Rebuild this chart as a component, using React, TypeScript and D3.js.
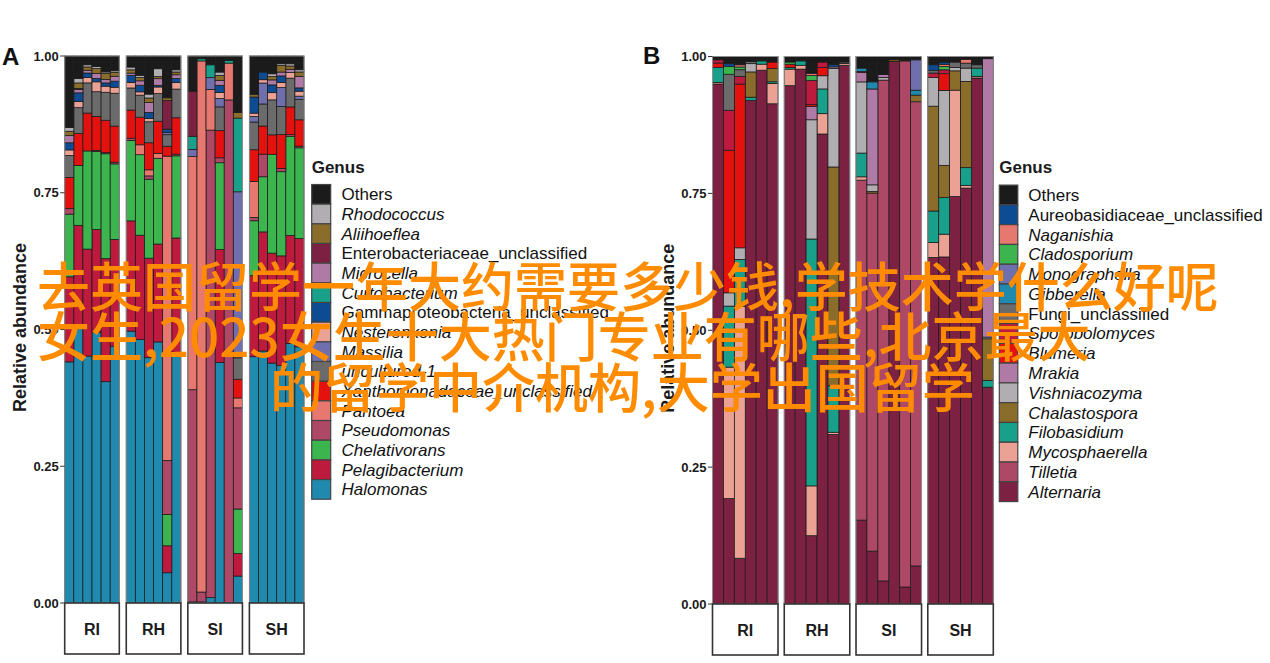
import React from 'react';
import * as d3 from 'd3';

// ---------- categories ----------
const facets = ['RI', 'RH', 'SI', 'SH'];
const perFacet = 6;
const tickValues = [0, 0.25, 0.5, 0.75, 1];

// ---------- Panel A (bacteria), stack order bottom -> top ----------
const genusA = ['Halomonas', 'Pelagibacterium', 'Chelativorans', 'Pseudomonas', 'Pantoea',
  'Xanthomonadaceae_unclassified', 'uncultured-1', 'Massilia', 'Nesterenkonia',
  'Gammaproteobacteria_unclassified', 'Curtobacterium', 'Microcella',
  'Enterobacteriaceae_unclassified', 'Aliihoeflea', 'Rhodococcus', 'Others'];
const italicA = [true, true, true, true, true, true, true, true, true, false, true, true, false, true, true, false];
const colorsA = ['#2089ae', '#bd1a3d', '#3cb54f', '#ae4867', '#e77870', '#e3120f', '#6b6b6b', '#6f6fae',
  '#eba294', '#0d4c93', '#18a08a', '#b07aa6', '#7d2142', '#8a6c2b', '#b1aeb1', '#1b1b1b'];

// values: RI1-6, RH1-6, SI1-6, SH1-6
const aHalomonas = [.439, .499, .450, .493, .403, .469, .493, .478, .444, .472, .055, .453, .002, .002, .010, .435, 0, .049, .444, .457, .432, .429, .469, .466];
const aPelagibacterium = [.155, .188, .195, .187, .224, .195, .200, .189, .180, .177, .049, .209, 0, 0, 0, .204, 0, .041, .146, .216, .198, .198, .195, .197];
const aChelativorans = [.114, .109, .179, .142, .191, .138, .146, .146, .143, .155, .057, .149, 0, 0, 0, .157, 0, .081, .099, .100, .178, .152, .179, .165];
const aPseudomonas = [.010, 0, 0, .002, .002, .003, .004, 0, .006, 0, .098, .003, .386, .018, .851, .009, .916, .184, .006, .041, 0, .006, .003, .003];
const aPantoea = [0, 0, 0, 0, 0, 0, 0, .018, .011, .009, .553, 0, .424, .969, .074, 0, .067, .018, .065, 0, 0, 0, 0, 0];
const aXanthomonadaceae = [.057, .058, .069, .062, .059, .066, .051, .050, .049, .058, .018, .066, 0, 0, 0, .049, 0, .034, .057, .051, .035, .061, .050, .048];
const aUncultured = [.040, .047, .055, .045, .051, .060, .040, .040, .038, .050, .021, .052, 0, 0, 0, .043, 0, .039, .050, .040, .063, .051, .052, .037];
const aMassilia = [0, 0, 0, 0, 0, 0, 0, 0, 0, 0, .004, 0, .013, 0, .022, .015, 0, .302, .010, .038, 0, .034, 0, .006];
const aNesterenkonia = [.010, .011, .010, .018, .011, .011, .010, .006, .006, .012, 0, .012, 0, 0, 0, .011, 0, 0, .006, .006, .013, .009, .010, .009];
const aGammaproteobacteria = [.013, .016, .008, .006, .006, .011, .013, .012, .011, .003, .006, .007, 0, 0, 0, .013, 0, 0, .029, .014, .014, .012, 0, .006];
const aCurtobacterium = [0, 0, 0, 0, 0, 0, 0, 0, 0, 0, 0, 0, .024, .004, .023, 0, .005, .134, 0, 0, 0, 0, 0, 0];
const aMicrocella = [.013, .006, .005, .009, .006, .009, .004, .008, .018, .012, 0, .007, 0, 0, 0, .009, 0, 0, 0, 0, .009, .007, .006, .021];
const aEnterobacteriaceae = [0, .002, 0, 0, 0, 0, 0, 0, 0, 0, .052, 0, .082, 0, 0, 0, 0, 0, 0, 0, 0, 0, 0, 0];
const aAliihoeflea = [.008, .010, .006, .009, .011, .007, .006, .006, .008, .004, .005, .005, 0, 0, 0, .009, 0, .010, .005, 0, .006, .012, .006, .008];
const aRhodococcus = [.007, .008, .004, .004, .003, .003, .005, .004, .007, .014, 0, .004, 0, 0, 0, .006, 0, 0, 0, 0, .005, .003, .004, .004];
const aOthers = [.130, .041, .016, .019, .029, .027, .020, .035, .069, .023, .076, .025, .064, .005, .016, .029, .008, .103, .069, .029, .032, .014, .014, .025];
const valuesA = [aHalomonas, aPelagibacterium, aChelativorans, aPseudomonas, aPantoea, aXanthomonadaceae,
  aUncultured, aMassilia, aNesterenkonia, aGammaproteobacteria, aCurtobacterium, aMicrocella,
  aEnterobacteriaceae, aAliihoeflea, aRhodococcus, aOthers];

// ---------- Panel B (fungi), stack order bottom -> top ----------
const genusB = ['Alternaria', 'Tilletia', 'Mycosphaerella', 'Filobasidium', 'Chalastospora', 'Vishniacozyma',
  'Mrakia', 'Blumeria', 'Sporobolomyces', 'Fungi_unclassified', 'Gibberella', 'Monographella',
  'Cladosporium', 'Naganishia', 'Aureobasidiaceae_unclassified', 'Others'];
const italicB = [true, true, true, true, true, true, true, true, true, false, true, true, true, true, false, false];
const colorsB = ['#7d2142', '#ae4867', '#eba294', '#18a08a', '#8a6c2b', '#b1aeb1', '#b07aa6', '#e3120f',
  '#bd1a3d', '#6b6b6b', '#2089ae', '#6f6fae', '#3cb54f', '#e77870', '#0d4c93', '#1b1b1b'];

const bAlternaria = [.946, .190, .083, .915, .974, .910, .942, .974, .122, .855, .310, .981, .152, .096, .042, .990, .031, .069, .628, .625, .739, .752, .954, .394];
const bTilletia = [0, 0, 0, 0, 0, 0, 0, 0, 0, 0, 0, 0, .616, .650, .912, 0, .960, .841, 0, 0, 0, 0, 0, 0];
const bMycosphaerella = [.003, .237, .457, 0, .011, .037, .030, .007, .089, .037, .004, .003, .006, 0, 0, 0, 0, 0, .027, .041, .193, .005, .003, 0];
const bFilobasidium = [.027, .110, .085, .006, .006, .003, .003, .008, .441, .045, .085, 0, .043, 0, 0, 0, 0, 0, .057, .066, 0, .032, .015, .012];
const bChalastospora = [0, 0, 0, .046, 0, .024, 0, 0, 0, 0, .400, 0, 0, .003, 0, .003, 0, .012, .190, .058, .035, .156, 0, .076];
const bVishniacozyma = [0, .024, .021, .015, 0, 0, 0, 0, .213, .024, .180, 0, .129, .012, .005, 0, 0, 0, .052, .135, .006, .024, 0, .003];
const bMrakia = [0, 0, 0, 0, 0, 0, 0, 0, .024, 0, .003, 0, .017, .174, .005, 0, 0, 0, 0, 0, 0, 0, 0, .506];
const bBlumeria = [.008, .257, .297, 0, 0, .012, .006, 0, .003, .015, 0, 0, 0, 0, 0, 0, 0, 0, 0, .030, 0, 0, 0, 0];
const bSporobolomyces = [.006, .072, .014, 0, 0, 0, 0, 0, .043, .010, 0, 0, .002, 0, 0, 0, 0, 0, .008, .007, 0, 0, 0, 0];
const bFungi = [0, .065, .012, .004, 0, 0, 0, 0, 0, 0, 0, .003, 0, 0, 0, 0, 0, 0, .005, 0, .010, .009, .006, 0];
const bGibberella = [0, 0, 0, 0, 0, 0, 0, 0, 0, 0, 0, 0, .006, .013, 0, 0, 0, .009, 0, 0, 0, 0, 0, 0];
const bMonographella = [0, 0, 0, 0, 0, 0, 0, 0, 0, 0, 0, 0, 0, 0, 0, 0, 0, .055, 0, 0, 0, 0, 0, 0];
const bCladosporium = [0, .014, .005, 0, 0, 0, .004, 0, .009, 0, 0, 0, 0, 0, 0, 0, 0, 0, 0, .006, 0, 0, 0, 0];
const bNaganishia = [0, 0, .004, 0, 0, 0, 0, 0, .004, 0, 0, 0, 0, 0, 0, 0, 0, 0, 0, .004, 0, .007, 0, 0];
const bAureobasidiaceae = [0, .005, 0, 0, 0, 0, 0, 0, 0, 0, .004, 0, 0, 0, 0, 0, 0, 0, .010, .004, 0, 0, 0, 0];
const bOthers = [.006, .013, .015, .009, .008, .010, .010, .008, .030, .010, .015, .010, .021, .046, .033, .006, .008, .006, .015, .010, .010, .005, .015, .004];
const valuesB = [bAlternaria, bTilletia, bMycosphaerella, bFilobasidium, bChalastospora, bVishniacozyma,
  bMrakia, bBlumeria, bSporobolomyces, bFungi, bGibberella, bMonographella, bCladosporium,
  bNaganishia, bAureobasidiaceae, bOthers];

// ---------- overlay text ----------
const overlayLines = [
  '去英国留学一年大约需要多少钱,学技术学什么好呢',
  '女生,2023女生十大热门专业有哪些,北京最大',
  '的留学中介机构,大学出国留学',
];

const FONT = '"Liberation Sans", Arial, Helvetica, sans-serif';

type PanelProps = {
  letter: string; letterX: number; letterY: number;
  keys: string[]; values: number[][]; colors: string[]; italic: boolean[];
  left: number; right: number; top: number; bottom: number; stripBottom: number; pad: number;
  titleX: number;
  legX: number; legTextX: number; legTop: number; legStep: number; swW: number; legTitleY: number;
};

function Panel(p: PanelProps) {
  const n = p.values[0].length;
  const rows = d3.range(n).map((j) => {
    const o: Record<string, number> = {};
    p.keys.forEach((k, i) => { o[k] = p.values[i][j]; });
    return o;
  });
  const series = d3.stack<Record<string, number>>().keys(p.keys).offset(d3.stackOffsetExpand)(rows);
  const fx = d3.scaleBand<string>().domain(facets).range([p.left, p.right]).paddingInner(p.pad);
  const xi = d3.scaleBand<number>().domain(d3.range(perFacet)).range([0, fx.bandwidth()]).padding(0);
  const y = d3.scaleLinear().domain([0, 1]).range([p.bottom, p.top]);
  const fmt = d3.format('.2f');
  const legendOrder = d3.range(p.keys.length).reverse();

  return (
    <g>
      {/* bars */}
      {series.map((s, i) => (
        <g key={p.keys[i]}>
          {s.map((d, j) => {
            const h = y(d[0]) - y(d[1]);
            if (!(h > 0.01)) return null;
            const f = facets[Math.floor(j / perFacet)];
            return (
              <rect key={j} x={(fx(f) as number) + (xi(j % perFacet) as number)} y={y(d[1])}
                width={xi.bandwidth()} height={h} fill={p.colors[i]}
                stroke="#1a1a1a" strokeWidth={0.75} />
            );
          })}
        </g>
      ))}
      {/* facet frames and strips */}
      {facets.map((f) => (
        <g key={f}>
          <rect x={fx(f)} y={p.top} width={fx.bandwidth()} height={p.bottom - p.top}
            fill="none" stroke="#8f8f8f" strokeWidth={1} />
          <rect x={fx(f)} y={p.bottom} width={fx.bandwidth()} height={p.stripBottom - p.bottom}
            fill="#ffffff" stroke="#333333" strokeWidth={1.6} />
          <text x={(fx(f) as number) + fx.bandwidth() / 2} y={(p.bottom + p.stripBottom) / 2 + 6}
            textAnchor="middle" fontFamily={FONT} fontWeight="bold" fontSize={16} fill="#1a1a1a">{f}</text>
        </g>
      ))}
      {/* y axis */}
      {tickValues.map((t) => (
        <g key={t}>
          <line x1={p.left - 4.5} x2={p.left} y1={y(t)} y2={y(t)} stroke="#333" strokeWidth={1} />
          <text x={p.left - 6} y={y(t) + 4.5} textAnchor="end" fontFamily={FONT} fontWeight="bold"
            fontSize={13} fill="#1a1a1a">{fmt(t)}</text>
        </g>
      ))}
      <text transform={`translate(${p.titleX},${(p.top + p.bottom) / 2 - 2}) rotate(-90)`} textAnchor="middle"
        fontFamily={FONT} fontWeight="bold" fontSize={18} fill="#1a1a1a">Relative abundance</text>
      <text x={p.letterX} y={p.letterY} fontFamily={FONT} fontWeight="bold" fontSize={24} fill="#111">{p.letter}</text>
      {/* legend */}
      <text x={p.legX} y={p.legTitleY} fontFamily={FONT} fontWeight="bold" fontSize={17} fill="#1a1a1a">Genus</text>
      {legendOrder.map((i, r) => {
        const yy = p.legTop + r * p.legStep;
        return (
          <g key={p.keys[i]}>
            <rect x={p.legX} y={yy} width={p.swW} height={p.legStep} fill={p.colors[i]} stroke="#444" strokeWidth={1.2} />
            <text x={p.legTextX} y={yy + p.legStep / 2 + 6} fontFamily={FONT} fontSize={17}
              fontStyle={p.italic[i] ? 'italic' : 'normal'} fill="#111">{p.keys[i]}</text>
          </g>
        );
      })}
    </g>
  );
}

export default function App() {
  return (
    <svg width={1270} height={663} viewBox="0 0 1270 663"
      style={{ position: 'absolute', left: 0, top: 0, background: '#ffffff' }}>
      <rect x={0} y={0} width={1270} height={663} fill="#ffffff" />
      <Panel letter="A" letterX={2} letterY={65} keys={genusA} values={valuesA} colors={colorsA} italic={italicA}
        left={64.7} right={304} top={56} bottom={603} stripBottom={654} pad={0.113} titleX={25.5}
        legX={311.7} legTextX={341.5} legTop={184.5} legStep={19.67} swW={19} legTitleY={173} />
      <Panel letter="B" letterX={643} letterY={64} keys={genusB} values={valuesB} colors={colorsB} italic={italicB}
        left={712.5} right={993.3} top={56.5} bottom={604} stripBottom={655} pad={0.087} titleX={673.5}
        legX={999.3} legTextX={1028.3} legTop={185.1} legStep={19.78} swW={18.5} legTitleY={173} />
      <g fontFamily='"Noto Sans CJK SC", "Noto Sans", sans-serif' fontSize={53} fontWeight={500} fill="#ff8c00">
        <text x={37} y={307}>{overlayLines[0]}</text>
        <text x={37} y={357}>{overlayLines[1]}</text>
        <text x={270} y={408}>{overlayLines[2]}</text>
      </g>
    </svg>
  );
}
